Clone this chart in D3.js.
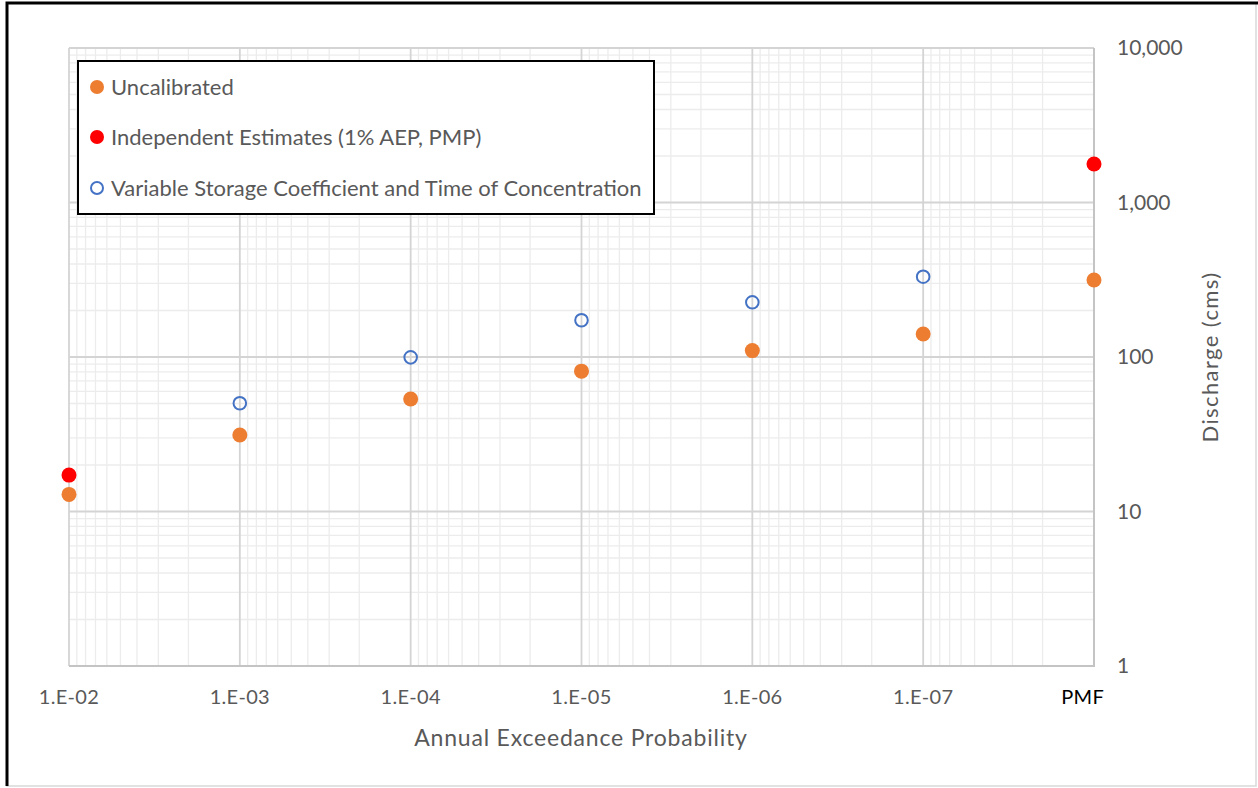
<!DOCTYPE html>
<html>
<head>
<meta charset="utf-8">
<script src="https://cdn.jsdelivr.net/npm/d3@7"></script>
<style>
	body { margin: 0; background: #fff; }
	text { font-family: Lato, 'Open Sans', sans-serif; }
</style>
</head>
<body>
<svg></svg>
<script>
// data
var aepValues = [1e-2, 1e-3, 1e-4, 1e-5, 1e-6, 1e-7, 1e-8];
var xTickLabels = ['1.E-02', '1.E-03', '1.E-04', '1.E-05', '1.E-06', '1.E-07', 'PMF'];
var uncalibrated = [12.9, 31.3, 53.5, 81, 110, 141, 315];
var independentAep = [1e-2, 1e-8];
var independent = [17.2, 1775];
var variableAep = [1e-3, 1e-4, 1e-5, 1e-6, 1e-7];
var variableStorage = [50.2, 99.5, 173, 226, 331];
var yTickValues = [1, 10, 100, 1000, 10000];
var legendLabels = ['Uncalibrated', 'Independent Estimates (1% AEP, PMP)', 'Variable Storage Coefficient and Time of Concentration'];

let W = 1258, H = 788;
let svg = d3.select('svg').attr('width', W).attr('height', H);

// frame
svg.append('rect')
	.attr('x', 7).attr('y', 3)
	.attr('width', 1249).attr('height', 783)
	.attr('fill', '#fff')
	.attr('stroke', '#d9d9d9')
	.attr('stroke-width', 1.5);
svg.append('path')
	.attr('d', 'M7,786 V3 H1258')
	.attr('fill', 'none')
	.attr('stroke', '#000')
	.attr('stroke-width', 3);

let x = d3.scaleLog().domain([1e-2, 1e-8]).range([69, 1094]);
let y = d3.scaleLog().domain([1, 10000]).range([666, 48]);

function isMajor(v) {
	let l = Math.log10(v);
	return Math.abs(l - Math.round(l)) < 1e-6;
}

// minor grid
let grid = svg.append('g');
grid.selectAll('.vminor')
	.data(x.ticks().filter((d) => !isMajor(d)))
	.enter()
	.append('line')
	.attr('x1', (d) => x(d)).attr('x2', (d) => x(d))
	.attr('y1', y(10000)).attr('y2', y(1))
	.attr('stroke', '#ececec')
	.attr('stroke-width', 1.3);
grid.selectAll('.hminor')
	.data(y.ticks().filter((d) => !isMajor(d)))
	.enter()
	.append('line')
	.attr('x1', x(1e-2)).attr('x2', x(1e-8))
	.attr('y1', (d) => y(d)).attr('y2', (d) => y(d))
	.attr('stroke', '#ececec')
	.attr('stroke-width', 1.3);

// major grid
grid.selectAll('.vmajor')
	.data(aepValues)
	.enter()
	.append('line')
	.attr('x1', (d) => x(d)).attr('x2', (d) => x(d))
	.attr('y1', y(10000)).attr('y2', y(1))
	.attr('stroke', '#d4d4d4')
	.attr('stroke-width', 1.8);
grid.selectAll('.hmajor')
	.data(yTickValues)
	.enter()
	.append('line')
	.attr('x1', x(1e-2)).attr('x2', x(1e-8))
	.attr('y1', (d) => y(d)).attr('y2', (d) => y(d))
	.attr('stroke', '#d4d4d4')
	.attr('stroke-width', 1.8);

// axis lines (bottom and right)
svg.append('path')
	.attr('d', 'M' + x(1e-2) + ',' + y(1) + ' H' + x(1e-8) + ' V' + y(10000))
	.attr('fill', 'none')
	.attr('stroke', '#c4c4c4')
	.attr('stroke-width', 2);

// x tick labels
svg.append('g')
	.selectAll('text')
	.data(aepValues)
	.enter()
	.append('text')
	.attr('x', (d, i) => (xTickLabels[i] == 'PMF' ? x(d) + 10 : x(d)))
	.attr('y', 704)
	.attr('text-anchor', (d, i) => (xTickLabels[i] == 'PMF' ? 'end' : 'middle'))
	.attr('font-size', 20)
	.attr('letter-spacing', 0.3)
	.attr('fill', (d, i) => (xTickLabels[i] == 'PMF' ? '#000' : '#595959'))
	.text((d, i) => xTickLabels[i]);

// y tick labels (right side)
svg.append('g')
	.selectAll('text')
	.data(yTickValues)
	.enter()
	.append('text')
	.attr('x', 1117)
	.attr('y', (d) => y(d))
	.attr('dy', '0.35em')
	.attr('font-size', 21)
	.attr('fill', '#595959')
	.text(d3.format(','));

// axis titles
svg.append('text')
	.attr('x', 581)
	.attr('y', 746)
	.attr('text-anchor', 'middle')
	.attr('font-size', 23)
	.attr('letter-spacing', 0.8)
	.attr('fill', '#595959')
	.text('Annual Exceedance Probability');
svg.append('text')
	.attr('transform', 'translate(1218,357) rotate(-90)')
	.attr('text-anchor', 'middle')
	.attr('font-size', 22)
	.attr('letter-spacing', 1.4)
	.attr('fill', '#595959')
	.text('Discharge (cms)');

// points
let orange = '#ed7d31', red = '#ff0000', blue = '#4472c4';
let pts = svg.append('g');
pts.selectAll('.unc')
	.data(uncalibrated)
	.enter()
	.append('circle')
	.attr('cx', (d, i) => x(aepValues[i]))
	.attr('cy', (d) => y(d))
	.attr('r', 7.5)
	.attr('fill', orange);
pts.selectAll('.ind')
	.data(independent)
	.enter()
	.append('circle')
	.attr('cx', (d, i) => x(independentAep[i]))
	.attr('cy', (d) => y(d))
	.attr('r', 7.5)
	.attr('fill', red);
pts.selectAll('.vsc')
	.data(variableStorage)
	.enter()
	.append('circle')
	.attr('cx', (d, i) => x(variableAep[i]))
	.attr('cy', (d) => y(d))
	.attr('r', 6.3)
	.attr('fill', 'none')
	.attr('stroke', blue)
	.attr('stroke-width', 2);

// legend
let legend = svg.append('g');
legend.append('rect')
	.attr('x', 78).attr('y', 61)
	.attr('width', 576).attr('height', 153)
	.attr('fill', '#fff')
	.attr('stroke', '#000')
	.attr('stroke-width', 2);
let rows = [87, 137, 188];
legendLabels.forEach((lbl, i) => {
	let c = legend.append('circle')
		.attr('cx', 97)
		.attr('cy', rows[i]);
	if (i == 2) {
		c.attr('r', 6).attr('fill', 'none').attr('stroke', blue).attr('stroke-width', 2);
	} else {
		c.attr('r', 7).attr('fill', i == 0 ? orange : red);
	}
	legend.append('text')
		.attr('x', 111)
		.attr('y', rows[i])
		.attr('dy', '0.35em')
		.attr('font-size', 22)
		.attr('fill', '#595959')
		.text(lbl);
});
</script>
</body>
</html>
